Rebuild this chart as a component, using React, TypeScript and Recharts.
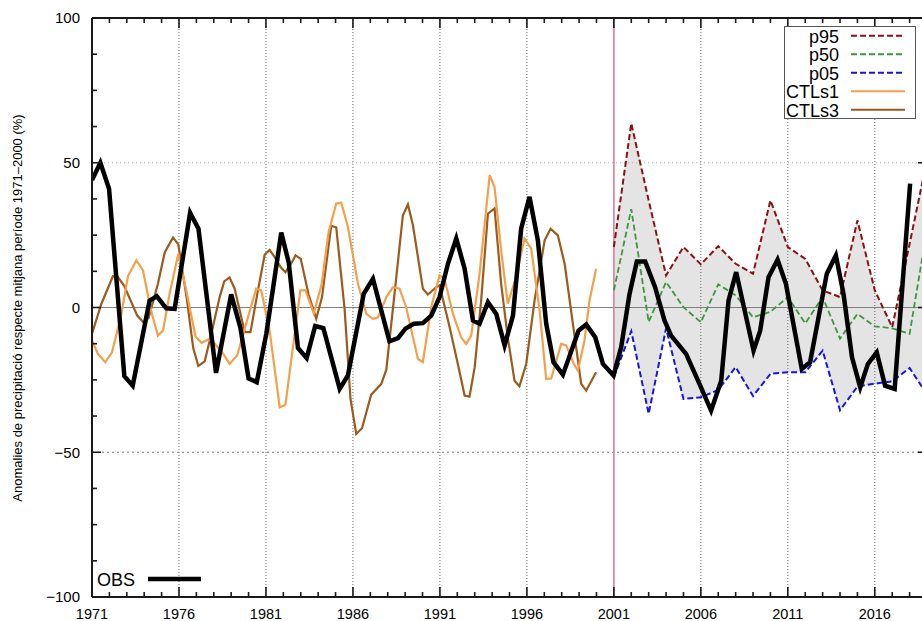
import { Area, ComposedChart, Line, ReferenceLine, XAxis, YAxis } from 'recharts'

const OBS_YEARS = [
  1971.0, 1971.48, 1971.98, 1972.86, 1973.34, 1974.31, 1974.72, 1975.27, 1975.75, 1976.64,
  1977.12, 1978.13, 1979.0, 1979.53, 1980.0, 1980.47, 1981.02, 1981.88, 1982.31, 1982.84,
  1983.34, 1983.83, 1984.3, 1985.24, 1985.71, 1986.62, 1987.15, 1988.1, 1988.59, 1989.02,
  1989.5, 1990.02, 1990.5, 1990.98, 1991.46, 1991.94, 1992.42, 1992.9, 1993.28, 1993.76,
  1994.24, 1994.72, 1995.2, 1995.67, 1996.15, 1996.63, 1997.11, 1997.53, 1998.07, 1998.97,
  1999.41, 1999.93, 2000.37, 2000.98, 2001.42, 2001.9, 2002.32, 2002.8, 2003.37, 2003.91,
  2004.29, 2005.15, 2005.92, 2006.59, 2007.17, 2007.59, 2008.03, 2009.03, 2009.41, 2009.89,
  2010.41, 2010.89, 2011.8, 2012.28, 2013.24, 2013.76, 2014.2, 2014.69, 2015.16, 2015.6,
  2016.11, 2016.59, 2017.14, 2018.03,
]
const OBS_VALUES = [
  44, 50, 41, -23.7, -27, 2.4, 3.9, -0.3, -0.5, 32.7,
  27.2, -22.6, 4.5, -7, -24.5, -25.8, -9.1, 25.9, 15.5, -14,
  -17.5, -6.4, -7.1, -28.1, -23.5, 4.7, 9.9, -11.7, -10.6, -7.3,
  -5.6, -5.4, -2.8, 3.6, 15.1, 23.8, 13.4, -4.5, -5.6, 1.8,
  -2.2, -13.1, -2.8, 27.2, 38.2, 23.2, -5.6, -18.9, -23.2, -8,
  -5.9, -10.3, -19.5, -23.5, -13.7, 4.7, 15.9, 15.9, 7, -4.5,
  -9.7, -16, -26.4, -35.6, -25.3, 2.4, 12.2, -14.9, -8, 10.5,
  16.5, 8.2, -21.2, -18.9, 11.7, 18, 4.7, -17.2, -27.6, -19.5,
  -15.5, -27, -28.1, 42.8,
]

// control runs
const CTLS1_YEARS = [
  1971.0, 1971.34, 1971.76, 1972.15, 1972.65, 1973.07, 1973.55, 1973.93, 1974.41, 1974.79,
  1975.08, 1975.47, 1975.96, 1976.45, 1976.95, 1977.3, 1977.7, 1978.05, 1978.55, 1978.91,
  1979.35, 1979.97, 1980.44, 1980.73, 1981.21, 1981.79, 1982.12, 1982.55, 1982.98, 1983.27,
  1983.75, 1984.2, 1984.6, 1985.04, 1985.33, 1985.71, 1986.29, 1986.77, 1987.15, 1987.44,
  1987.92, 1988.3, 1988.68, 1989.06, 1989.45, 1989.74, 1990.02, 1990.5, 1990.98, 1991.26,
  1991.75, 1992.22, 1992.51, 1992.8, 1993.28, 1993.86, 1994.14, 1994.52, 1994.9, 1995.38,
  1995.86, 1996.25, 1996.73, 1997.11, 1997.4, 1997.97, 1998.26, 1998.7, 1998.93, 1999.31,
  1999.6, 1999.98,
]
const CTLS1_VALUES = [
  -11.4, -16, -18.9, -15.5, -3.5, 10.8, 16.3, 12.8, -1.5, -9.7,
  -8, 5, 18.5, 5, -10, -12.2, -11, -12.5, -16, -19.5,
  -16.5, -3.3, 6.5, 5.9, -8, -34.5, -33.6, -13.7, 5.9, 5.9,
  -2, 8, 26, 35.9, 36.2, 27.8, 8.2, -2.2, -3.9, -3.4,
  3.6, 7, 6.5, 0.1, -10.3, -17.8, -18.9, 0.1, 11.1, 9.9,
  -2.2, -10.3, -12.6, -9.7, 11.7, 45.7, 41.6, 19.7, 1.3, 10.5,
  23.8, 20.3, -1, -24.7, -24.5, -12.6, -13.1, -19.5, -21.8, -11.4,
  2.4, 13.4,
]
const CTLS3_YEARS = [
  1971.0, 1971.54, 1972.2, 1972.49, 1972.85, 1973.6, 1973.95, 1974.25, 1974.79, 1975.18,
  1975.66, 1975.96, 1976.45, 1976.82, 1977.11, 1977.48, 1977.86, 1978.34, 1978.6, 1978.91,
  1979.2, 1979.78, 1980.11, 1980.54, 1980.93, 1981.21, 1981.5, 1981.85, 1982.12, 1982.5,
  1982.7, 1983.0, 1983.45, 1983.89, 1984.22, 1984.75, 1985.04, 1985.52, 1985.86, 1986.19,
  1986.52, 1987.05, 1987.63, 1987.92, 1988.39, 1988.87, 1989.16, 1989.45, 1990.02, 1990.31,
  1990.79, 1990.98, 1991.56, 1992.03, 1992.42, 1992.7, 1993.0, 1993.37, 1993.76, 1994.14,
  1994.52, 1994.9, 1995.29, 1995.57, 1995.96, 1996.44, 1997.02, 1997.36, 1997.78, 1998.17,
  1999.12, 1999.41, 1999.98,
]
const CTLS3_VALUES = [
  -9, 1.3, 10.8, 10.5, 7.5, -2.8, -5.1, -3.7, 8.2, 19,
  24.2, 21.8, 3, -14, -20.2, -18.6, -9.1, 3.6, 9, 10.4,
  6.5, -8.5, -8.5, 5.9, 18.3, 19.9, 17.4, 13.9, 12.2, 15.7,
  18, 16.8, 4.5, -3.9, 3.5, 28.2, 27.7, -0.5, -31.6, -43.7,
  -41.7, -30.1, -26.4, -21.5, 4.7, 31.8, 35.6, 28.4, 6.5, 4.5,
  7, 7.6, -6.8, -19.5, -30.4, -30.8, -20.6, 2.4, 32.4, 34.2,
  8.2, -10.3, -25.3, -27.2, -19.5, 2.4, 23.2, 27.2, 24.9, 15.1,
  -26.4, -28.7, -22.4,
]

// ensemble percentiles, one value per year
const ENS_YEARS = [
  2001, 2002, 2003, 2004, 2005, 2006, 2007, 2008, 2009, 2010,
  2011, 2012, 2013, 2014, 2015, 2016, 2017, 2018, 2019,
]
const P95 = [20.9, 63.6, 37, 11.1, 20.9, 14.9, 21.2, 15.1, 11.7, 37, 20.9, 16.8, 5.9, 3.6, 30.1, 5.9, -6.8, 22, 51]
const P50 = [5.9, 34, -5, 8.8, 0.1, -5.1, 8, 4.2, -3.4, -1.5, 3.6, -5.5, 3.6, -10.8, -2.2, -6.5, -7.2, -9.1, 27]
const P05 = [-24, -8.2, -36.7, -7.2, -31.6, -31, -28.5, -20.6, -30.6, -22.9, -22.4, -22.4, -14.9, -35.5, -27.3, -26.3, -25.5, -20.9, -30]

const MAJOR_YEARS = [1971, 1976, 1981, 1986, 1991, 1996, 2001, 2006, 2011, 2016]
const GRID_YEARS = [1976, 1981, 1986, 1991, 1996, 2006, 2011, 2016]
const MAJOR_Y = [-100, -50, 0, 50, 100]
const Y_TICKS = [-100, -87.5, -75, -62.5, -50, -37.5, -25, -12.5, 0, 12.5, 25, 37.5, 50, 62.5, 75, 87.5, 100]
const X_TICKS = Array.from({ length: 49 }, (_, i) => 1971 + i)

const zip = (xs: number[], ys: number[]) => xs.map((x, i) => ({ x, v: ys[i] }))
const obsData = zip(OBS_YEARS, OBS_VALUES)
const ctls1Data = zip(CTLS1_YEARS, CTLS1_VALUES)
const ctls3Data = zip(CTLS3_YEARS, CTLS3_VALUES)
const p95Data = zip(ENS_YEARS, P95)
const p50Data = zip(ENS_YEARS, P50)
const p05Data = zip(ENS_YEARS, P05)
const bandData = ENS_YEARS.map((x, i) => ({ x, range: [P05[i], P95[i]] }))

const INK = '#1a1a1a'
const FONT = '"Liberation Sans", Arial, Helvetica, sans-serif'

const LEGEND = [
  { name: 'p95', color: '#8b1010', dash: '6 3' },
  { name: 'p50', color: '#3c983c', dash: '6 3' },
  { name: 'p05', color: '#1515e0', dash: '6 3' },
  { name: 'CTLs1', color: '#f2a04c', dash: undefined },
  { name: 'CTLs3', color: '#9c5a1c', dash: undefined },
]

function BottomTick({ x, y, payload }: any) {
  const major = MAJOR_YEARS.includes(payload.value)
  return (
    <g>
      <line x1={x} x2={x} y1={y} y2={y - (major ? 10 : 5)} stroke={INK} strokeWidth={1.6} />
      {major && (
        <text x={x} y={y + 22} textAnchor="middle" fontSize={14.5} fill="#000">
          {payload.value}
        </text>
      )}
    </g>
  )
}

function TopTick({ x, y, payload }: any) {
  const major = MAJOR_YEARS.includes(payload.value)
  return <line x1={x} x2={x} y1={y} y2={y + (major ? 10 : 5)} stroke={INK} strokeWidth={1.6} />
}

function LeftTick({ x, y, payload }: any) {
  const major = MAJOR_Y.includes(payload.value)
  const v = payload.value as number
  return (
    <g>
      <line x1={x} x2={x + (major ? 9 : 5)} y1={y} y2={y} stroke={INK} strokeWidth={1.6} />
      {major && (
        <text x={x - 12} y={y + 5.4} textAnchor="end" fontSize={15} fill="#000">
          {v < 0 ? `\u2212${Math.abs(v)}` : v}
        </text>
      )}
    </g>
  )
}

function RightTick({ x, y, payload }: any) {
  const major = MAJOR_Y.includes(payload.value)
  return <line x1={x} x2={x - (major ? 9 : 5)} y1={y} y2={y} stroke={INK} strokeWidth={1.6} />
}

export default function App() {
  return (
    <div
      style={{
        position: 'fixed',
        left: 0,
        top: 0,
        width: 922,
        height: 621,
        overflow: 'hidden',
        background: '#fff',
        fontFamily: FONT,
      }}
    >
      <ComposedChart width={940} height={632} margin={{ top: 0, right: 0, bottom: 0, left: 0 }}>
        <XAxis
          xAxisId={0}
          dataKey="x"
          type="number"
          domain={[1971, 2019]}
          allowDataOverflow
          ticks={X_TICKS}
          interval={0}
          height={35}
          tickSize={0}
          tickMargin={0}
          tick={<BottomTick />}
          axisLine={{ stroke: INK, strokeWidth: 2 }}
        />
        <XAxis
          xAxisId="top"
          orientation="top"
          dataKey="x"
          type="number"
          domain={[1971, 2019]}
          allowDataOverflow
          ticks={X_TICKS}
          interval={0}
          height={18}
          tickSize={0}
          tickMargin={0}
          tick={<TopTick />}
          axisLine={{ stroke: INK, strokeWidth: 2 }}
        />
        <YAxis
          yAxisId={0}
          type="number"
          domain={[-100, 100]}
          allowDataOverflow
          ticks={Y_TICKS}
          interval={0}
          width={92}
          tickSize={0}
          tickMargin={0}
          tick={<LeftTick />}
          axisLine={{ stroke: INK, strokeWidth: 2 }}
        />
        <YAxis
          yAxisId="right"
          orientation="right"
          type="number"
          domain={[-100, 100]}
          allowDataOverflow
          ticks={Y_TICKS}
          interval={0}
          width={13}
          tickSize={0}
          tickMargin={0}
          tick={<RightTick />}
          axisLine={{ stroke: INK, strokeWidth: 2 }}
        />

        <Area
          data={bandData}
          dataKey="range"
          type="linear"
          fill="#e4e4e4"
          fillOpacity={1}
          stroke="none"
          isAnimationActive={false}
        />

        {GRID_YEARS.map((yr) => (
          <ReferenceLine key={yr} x={yr} stroke="#6a6a6a" strokeDasharray="1 2" strokeWidth={1} />
        ))}
        <ReferenceLine y={50} stroke="#b0b0b0" strokeDasharray="1 3" strokeWidth={1} />
        <ReferenceLine y={-50} stroke="#7a7a7a" strokeDasharray="2 3" strokeWidth={1} />
        <ReferenceLine y={0} stroke="#7f7f7f" strokeWidth={1.2} />
        <ReferenceLine x={2001} stroke="#dc8aa3" strokeWidth={1.8} />

        <Line data={p95Data} dataKey="v" type="linear" stroke="#8b1010" strokeWidth={2} strokeDasharray="6 3" dot={false} isAnimationActive={false} />
        <Line data={p50Data} dataKey="v" type="linear" stroke="#3c983c" strokeWidth={1.8} strokeDasharray="6 3" dot={false} isAnimationActive={false} />
        <Line data={p05Data} dataKey="v" type="linear" stroke="#1515e0" strokeWidth={2} strokeDasharray="6 3" dot={false} isAnimationActive={false} />
        <Line data={ctls3Data} dataKey="v" type="linear" stroke="#9c5a1c" strokeWidth={2.2} dot={false} isAnimationActive={false} />
        <Line data={ctls1Data} dataKey="v" type="linear" stroke="#f2a04c" strokeWidth={2.2} dot={false} isAnimationActive={false} />
        <Line data={obsData} dataKey="v" type="linear" stroke="#000" strokeWidth={4.5} dot={false} isAnimationActive={false} />
      </ComposedChart>

      <svg width={922} height={621} style={{ position: 'absolute', left: 0, top: 0, pointerEvents: 'none' }}>
        <text
          transform="translate(17.5,308) rotate(-90)"
          textAnchor="middle"
          dominantBaseline="central"
          fontSize={13}
          fill="#000"
        >
          Anomalies de precipitació respecte mitjana període 1971–2000 (%)
        </text>
        <rect x={784.5} y={26.5} width={131} height={92} fill="#fff" stroke="#555" strokeWidth={1} />
        {LEGEND.map((s, i) => {
          const cy = 35.7 + i * 18.5
          return (
            <g key={s.name}>
              <text x={839} y={cy + 7} textAnchor="end" fontSize={18} fill="#000">
                {s.name}
              </text>
              <line x1={851} x2={905} y1={cy} y2={cy} stroke={s.color} strokeWidth={2} strokeDasharray={s.dash} />
            </g>
          )
        })}
        <text x={97} y={586} fontSize={18} fill="#000">
          OBS
        </text>
        <line x1={148} x2={201} y1={579} y2={579} stroke="#000" strokeWidth={4.5} />
      </svg>
    </div>
  )
}
